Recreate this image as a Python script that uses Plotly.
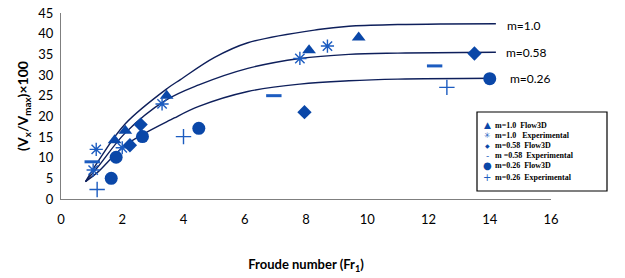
import plotly.graph_objects as go

# ---- data ----
tri_x = [1.75, 2.1, 3.45, 8.1, 9.72]
tri_y = [14.2, 16.5, 25.0, 36.0, 39.1]

star_x = [1.05, 1.15, 2.0, 3.3, 7.8, 8.7]
star_y = [7.0, 12.0, 12.4, 23.0, 34.0, 37.0]

dia_x = [2.25, 2.6, 7.95, 13.5]
dia_y = [13.0, 18.0, 21.0, 35.2]

dash_x = [1.02, 6.95, 12.2]
dash_y = [9.0, 25.0, 32.2]

circ_x = [1.64, 1.8, 2.66, 4.5, 14.0]
circ_y = [5.0, 10.1, 15.1, 17.1, 29.1]

plus_x = [1.18, 4.0, 12.6]
plus_y = [2.3, 15.1, 27.0]

# trend curves
c1_x = [0.8, 1.2, 2.1, 3.5, 3.9, 5.0, 6.1, 8.4, 9.4, 11.0, 12.5, 14.2]
c1_y = [4.2, 9.0, 18.2, 26.9, 28.9, 34.2, 37.8, 41.0, 41.8, 42.2, 42.35, 42.4]
c2_x = [0.8, 1.2, 2.1, 3.4, 4.5, 6.1, 7.8, 9.4, 11.0, 14.2]
c2_y = [4.2, 7.7, 16.0, 23.8, 27.6, 31.6, 34.0, 35.0, 35.3, 35.5]
c3_x = [0.8, 1.2, 2.1, 3.7, 4.5, 6.1, 7.8, 9.4, 11.0, 14.2]
c3_y = [4.2, 6.5, 13.0, 19.6, 22.4, 26.0, 27.8, 28.6, 29.0, 29.2]

curve_labels = ["m=1.0", "m=0.58", "m=0.26"]
label_x = [14.5, 14.45, 14.6]
label_y = [41.9, 35.4, 29.1]

x_ticks = [0, 2, 4, 6, 8, 10, 12, 14, 16]
y_ticks = [0, 5, 10, 15, 20, 25, 30, 35, 40, 45]

NB = "\u00a0"
legend_names = [
    "m=1.0" + NB * 2 + "Flow3D",
    "m=1.0" + NB * 3 + "Experimental",
    "m=0.58" + NB * 2 + "Flow3D",
    "m" + NB + "=0.58" + NB * 2 + "Experimental",
    "m=0.26" + NB * 2 + "Flow3D",
    "m=0.26" + NB * 2 + "Experimental",
]
legend_glyphs = ["\u25B2", "\u2733", "\u25C6", "-", "\u25CF", "+"]
legend_glyph_sizes = [9, 8, 6, 9, 10, 10]

dark = "#0a47a8"
light = "#1c5cc0"
navy = "#0e1f5b"
legend_colors = [dark, light, dark, light, dark, light]

fig = go.Figure()

for cx, cy in [(c1_x, c1_y), (c2_x, c2_y), (c3_x, c3_y)]:
    fig.add_trace(go.Scatter(x=cx, y=cy, mode="lines",
                             line=dict(color=navy, width=1.4, shape="spline", smoothing=1.0),
                             showlegend=False, hoverinfo="skip"))

fig.add_trace(go.Scatter(x=tri_x, y=tri_y, mode="markers", name=legend_names[0],
                         marker=dict(symbol="triangle-up", size=12, color=dark)))
fig.add_trace(go.Scatter(x=star_x, y=star_y, mode="markers", name=legend_names[1],
                         marker=dict(symbol="asterisk-open", size=11, color=light,
                                     line=dict(color=light, width=1.4))))
fig.add_trace(go.Scatter(x=dia_x, y=dia_y, mode="markers", name=legend_names[2],
                         marker=dict(symbol="diamond", size=11, color=dark)))
fig.add_trace(go.Scatter(x=dash_x, y=dash_y, mode="markers", name=legend_names[3],
                         marker=dict(symbol="line-ew-open", size=11, color=light,
                                     line=dict(color=light, width=3))))
fig.add_trace(go.Scatter(x=circ_x, y=circ_y, mode="markers", name=legend_names[4],
                         marker=dict(symbol="circle", size=13, color=dark)))
fig.add_trace(go.Scatter(x=plus_x, y=plus_y, mode="markers", name=legend_names[5],
                         marker=dict(symbol="cross-thin-open", size=11, color=light,
                                     line=dict(color=light, width=1.4))))

for t, lx, ly in zip(curve_labels, label_x, label_y):
    fig.add_annotation(x=lx, y=ly, text=t, showarrow=False, xanchor="left", yanchor="middle",
                       font=dict(family="Lato, Liberation Sans, sans-serif", size=12, color="black"))

# ---- hand-drawn compact legend box ----
PL, PW, PB, PH = 61, 490, 199, 186  # plot-area pixel geometry
def px2fx(px):
    return (px - PL) / PW
def py2fy(py):
    return (PB - py) / PH

fig.add_shape(type="rect", xref="paper", yref="paper",
              x0=px2fx(477), x1=px2fx(607), y0=py2fy(191), y1=py2fy(112),
              line=dict(color="black", width=1.2), fillcolor="white", layer="above")
entry_py = [125, 135.5, 145.5, 155.5, 165.5, 177]
for g, gs, col, name, py in zip(legend_glyphs, legend_glyph_sizes, legend_colors, legend_names, entry_py):
    fig.add_annotation(xref="paper", yref="paper", x=px2fx(487), y=py2fy(py), text=g,
                       showarrow=False, xanchor="center", yanchor="middle", borderpad=0,
                       font=dict(family="DejaVu Sans, sans-serif", size=gs, color=col))
    fig.add_annotation(xref="paper", yref="paper", x=px2fx(494), y=py2fy(py), text="<b>" + name + "</b>",
                       showarrow=False, xanchor="left", yanchor="middle", borderpad=0,
                       font=dict(family="Liberation Serif, serif", size=8, color="black"))

fig.update_layout(
    width=625, height=278,
    margin=dict(l=61, r=74, t=13, b=79, autoexpand=False),
    paper_bgcolor="white", plot_bgcolor="white",
    font=dict(family="Lato, Liberation Sans, sans-serif", size=13, color="black"),
    showlegend=False,
    xaxis=dict(range=[0, 16], tickvals=x_ticks, showline=True, linecolor="#7f7f7f", linewidth=1,
               showgrid=False, zeroline=False, ticks="", ticklabelstandoff=8,
               ticklabeloverflow="allow",
               title=dict(text="<b>Froude number (Fr<sub>1</sub>)</b>", font=dict(size=13), standoff=34)),
    yaxis=dict(range=[0, 45], tickvals=y_ticks, showline=True, linecolor="#7f7f7f", linewidth=1,
               showgrid=False, zeroline=False, ticks="", ticklabelstandoff=4,
               ticklabeloverflow="allow",
               title=dict(text="<b>(V<sub>x</sub>/V<sub>max</sub>)×100</b>", font=dict(size=14), standoff=6)),
)

# remove the page's default body margin so the figure sits at the window origin
fig.write_html("out.html", config={"displayModeBar": False},
               post_script="document.body.style.margin='0';document.body.style.overflow='hidden';")
